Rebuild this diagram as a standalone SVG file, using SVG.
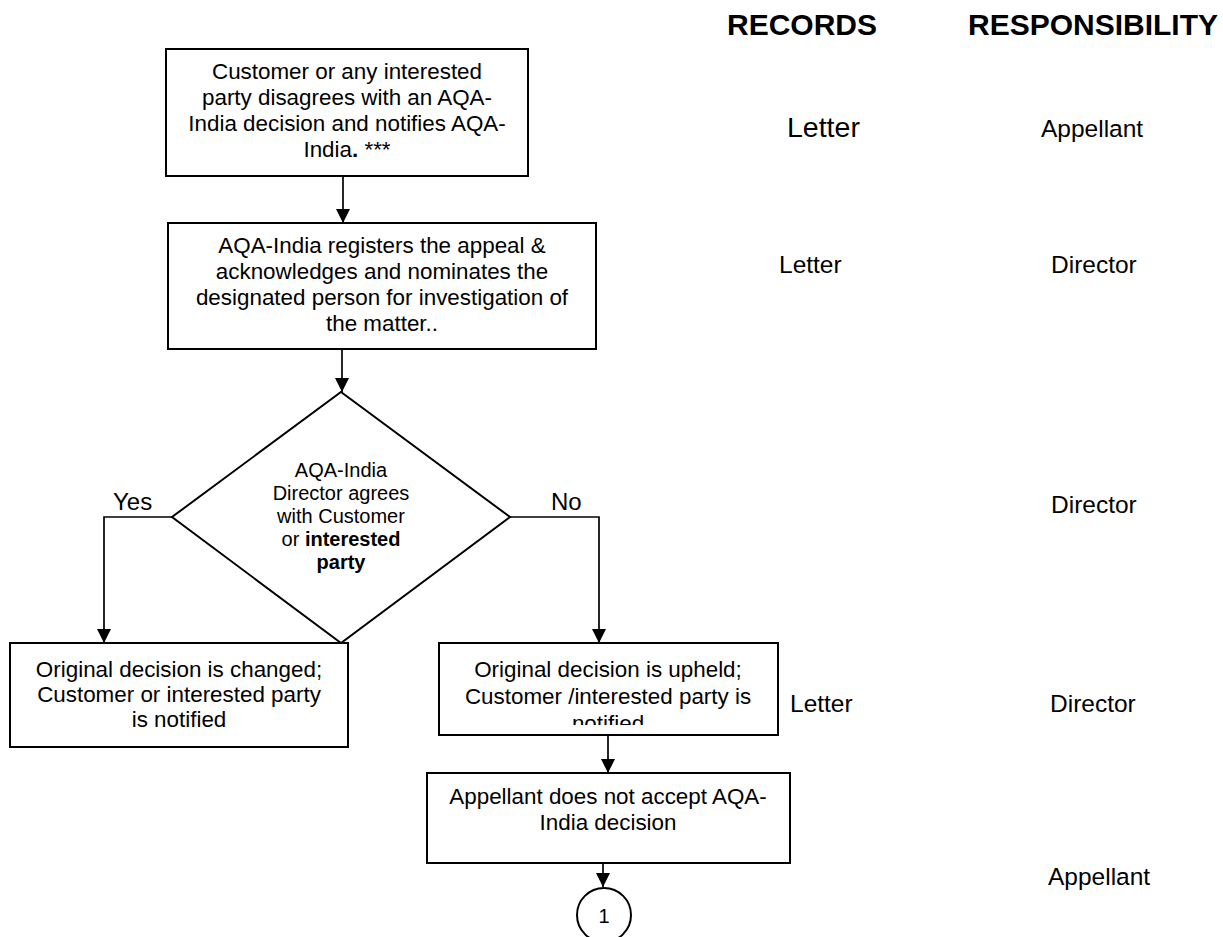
<svg xmlns="http://www.w3.org/2000/svg" width="1223" height="937" viewBox="0 0 1223 937">
<style>
.box{fill:#fff;stroke:#000;stroke-width:2}
.t{font-family:"Liberation Sans",Arial,Helvetica,sans-serif;font-size:22.4px;fill:#000;text-anchor:middle}
.d{font-size:20px}
.r{font-family:"Liberation Sans",Arial,Helvetica,sans-serif;font-size:24.5px;fill:#000}
.h{font-family:"Liberation Sans",Arial,Helvetica,sans-serif;font-size:30px;font-weight:bold;fill:#000}
.c{fill:none;stroke:#000;stroke-width:1.7}
.b{font-weight:bold}
</style>
<defs>
<marker id="ah" markerWidth="14" markerHeight="14" refX="14" refY="7" orient="auto" markerUnits="userSpaceOnUse"><path d="M0,0 L14,7 L0,14 z" fill="#000"/></marker>
<clipPath id="clipUp"><rect x="439" y="643" width="339" height="82"/></clipPath>
</defs>
<rect width="1223" height="937" fill="#fff"/>

<g id="connectors">
<path class="c" d="M343,176 V223" marker-end="url(#ah)"/>
<path class="c" d="M342,349 V392" marker-end="url(#ah)"/>
<path class="c" d="M172,517 H104 V643" marker-end="url(#ah)"/>
<path class="c" d="M510,517 H599 V643" marker-end="url(#ah)"/>
<path class="c" d="M608,735 V773" marker-end="url(#ah)"/>
<path class="c" d="M603,863 V887" marker-end="url(#ah)"/>
<text class="r" x="113" y="510" style="font-size:24px">Yes</text>
<text class="r" x="551" y="510" style="font-size:24px">No</text>
</g>

<g id="n1">
<rect class="box" x="166" y="49" width="362" height="127"/>
<text class="t" x="347" y="79">Customer or any interested</text>
<text class="t" x="347" y="105">party disagrees with an AQA-</text>
<text class="t" x="347" y="131">India decision and notifies AQA-</text>
<text class="t" x="347" y="157">India<tspan class="b">.</tspan> ***</text>
</g>

<g id="n2">
<rect class="box" x="168" y="223" width="428" height="126"/>
<text class="t" x="382" y="253">AQA-India registers the appeal &amp;</text>
<text class="t" x="382" y="279">acknowledges and nominates the</text>
<text class="t" x="382" y="305">designated person for investigation of</text>
<text class="t" x="382" y="331">the matter..</text>
</g>

<g id="n3">
<polygon class="box" points="341,392 510,517 341,643 172,517"/>
<text class="t d" x="341" y="477">AQA-India</text>
<text class="t d" x="341" y="500">Director agrees</text>
<text class="t d" x="341" y="523">with Customer</text>
<text class="t d" x="341" y="546">or <tspan class="b">interested</tspan></text>
<text class="t d b" x="341" y="569">party</text>
</g>

<g id="n4">
<rect class="box" x="10" y="643" width="338" height="104"/>
<text class="t" x="179" y="677">Original decision is changed;</text>
<text class="t" x="179" y="702">Customer or interested party</text>
<text class="t" x="179" y="727">is notified</text>
</g>

<g id="n5">
<rect class="box" x="439" y="643" width="339" height="92"/>
<g clip-path="url(#clipUp)">
<text class="t" x="608" y="677">Original decision is upheld;</text>
<text class="t" x="608" y="704">Customer /interested party is</text>
<text class="t" x="608" y="731">notified</text>
</g>
</g>

<g id="n6">
<rect class="box" x="427" y="773" width="363" height="90"/>
<text class="t" x="608" y="804">Appellant does not accept AQA-</text>
<text class="t" x="608" y="830">India decision</text>
</g>

<g id="n7">
<ellipse class="box" cx="604" cy="915" rx="27" ry="27"/>
<text class="t d" x="604" y="923">1</text>
</g>

<g id="columns">
<text class="h" x="727" y="35">RECORDS</text>
<text class="h" x="968" y="35">RESPONSIBILITY</text>
<text class="r" x="787" y="137" style="font-size:28.5px">Letter</text>
<text class="r" x="1041" y="137">Appellant</text>
<text class="r" x="779" y="273">Letter</text>
<text class="r" x="1051" y="273">Director</text>
<text class="r" x="1051" y="513">Director</text>
<text class="r" x="790" y="712">Letter</text>
<text class="r" x="1050" y="712">Director</text>
<text class="r" x="1048" y="885">Appellant</text>
</g>
</svg>
